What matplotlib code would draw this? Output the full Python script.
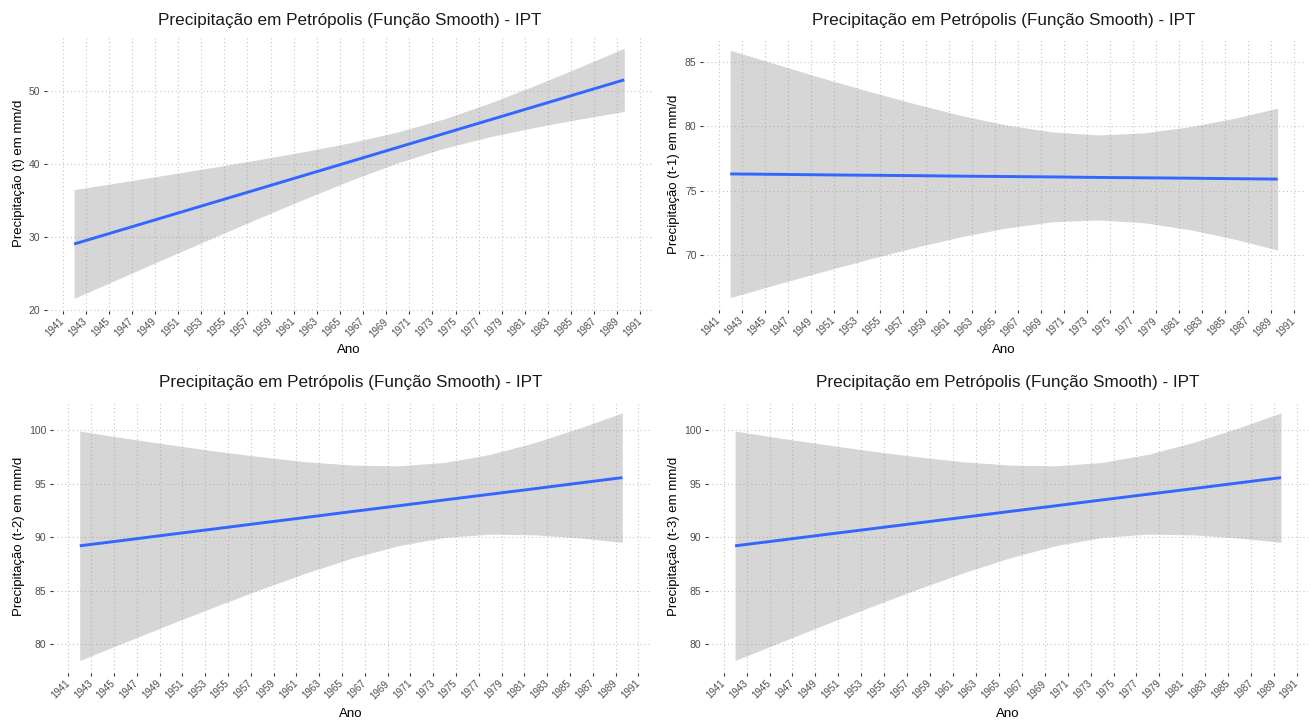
import matplotlib
matplotlib.use("Agg")
import matplotlib.pyplot as plt

plt.rcParams["font.family"] = ["Liberation Sans", "DejaVu Sans"]

# anos onde a curva suavizada foi lida
anos = [1942, 1946, 1950, 1954, 1958, 1962, 1966, 1970, 1974, 1978, 1982, 1986, 1989.6]

# precipitação (t)
prec_t_fit = [29.00, 30.89, 32.78, 34.67, 36.56, 38.45, 40.34, 42.24, 44.13, 46.02, 47.91, 49.80, 51.50]
prec_t_sup = [36.45, 37.45, 38.47, 39.50, 40.57, 41.69, 42.91, 44.36, 46.14, 48.33, 50.80, 53.41, 55.83]
prec_t_inf = [21.55, 24.33, 27.09, 29.84, 32.55, 35.21, 37.77, 40.12, 42.12, 43.71, 45.02, 46.19, 47.17]

# precipitação (t-1)
prec_t1_fit = [76.30, 76.27, 76.23, 76.20, 76.17, 76.13, 76.10, 76.07, 76.03, 76.00, 75.97, 75.93, 75.90]
prec_t1_sup = [85.90, 84.82, 83.75, 82.73, 81.76, 80.85, 80.10, 79.56, 79.33, 79.49, 79.97, 80.65, 81.41]
prec_t1_inf = [66.70, 67.72, 68.71, 69.67, 70.58, 71.41, 72.10, 72.58, 72.73, 72.51, 71.97, 71.21, 70.39]

# precipitação (t-2)
prec_t2_fit = [89.20, 89.73, 90.27, 90.80, 91.34, 91.87, 92.41, 92.94, 93.48, 94.01, 94.54, 95.08, 95.56]
prec_t2_sup = [99.90, 99.24, 98.62, 98.02, 97.49, 97.03, 96.73, 96.66, 96.98, 97.73, 98.86, 100.24, 101.60]
prec_t2_inf = [78.50, 80.22, 81.92, 83.58, 85.19, 86.71, 88.09, 89.22, 89.98, 90.29, 90.22, 89.92, 89.52]

# precipitação (t-3)
prec_t3_fit = [89.20, 89.73, 90.27, 90.80, 91.34, 91.87, 92.41, 92.94, 93.48, 94.01, 94.54, 95.08, 95.56]
prec_t3_sup = [99.90, 99.24, 98.62, 98.02, 97.49, 97.03, 96.73, 96.66, 96.98, 97.73, 98.86, 100.24, 101.60]
prec_t3_inf = [78.50, 80.22, 81.92, 83.58, 85.19, 86.71, 88.09, 89.22, 89.98, 90.29, 90.22, 89.92, 89.52]

x_ticks = list(range(1941, 1992, 2))
y_ticks = [[20, 30, 40, 50], [70, 75, 80, 85], [80, 85, 90, 95, 100], [80, 85, 90, 95, 100]]
y_labels = ["Precipitação (t) em mm/d", "Precipitação (t-1) em mm/d",
            "Precipitação (t-2) em mm/d", "Precipitação (t-3) em mm/d"]
titulo = "Precipitação em Petrópolis (Função Smooth) - IPT"

series = [(prec_t_fit, prec_t_sup, prec_t_inf),
          (prec_t1_fit, prec_t1_sup, prec_t1_inf),
          (prec_t2_fit, prec_t2_sup, prec_t2_inf),
          (prec_t3_fit, prec_t3_sup, prec_t3_inf)]

W, H = 1311, 720
fig = plt.figure(figsize=(W / 100, H / 100), dpi=100)

# caixas dos painéis em pixels: esquerda, topo, direita, base
caixas = [(46.6, 35.7, 651.8, 310.9), (702.8, 37.9, 1305.0, 310.0),
          (52.6, 400.5, 649.5, 672.9), (707.8, 400.5, 1308.3, 672.9)]
titulo_y = [20, 20, 383, 383]
ano_y = [350, 350, 714, 714]
ylab_x = [19, 674, 19, 674]


def expande(vmin, vmax, f=0.05):
    d = (vmax - vmin) * f
    return vmin - d, vmax + d


for i, (fit, sup, inf) in enumerate(series):
    l, t, r, b = caixas[i]
    ax = fig.add_axes([l / W, 1 - b / H, (r - l) / W, (b - t) / H])

    ax.fill_between(anos, inf, sup, color="#999999", alpha=0.4, lw=0, zorder=2)
    ax.plot(anos, fit, color="#3366FF", lw=2.1, zorder=3, solid_capstyle="butt")

    ax.set_xlim(*expande(min(anos), max(anos)))
    ax.set_ylim(*expande(min(inf), max(sup)))
    ax.set_xticks(x_ticks)
    ax.set_yticks(y_ticks[i])
    ax.set_xticklabels([str(a) for a in x_ticks], rotation=45, ha="right",
                       va="center", rotation_mode="anchor")

    ax.grid(True, color="#c4c4c4", linestyle=(0, (1, 2.5)), lw=0.8, zorder=1)
    for s in ax.spines.values():
        s.set_visible(False)
    ax.tick_params(axis="both", length=2.5, width=0.8, color="#333333",
                   labelcolor="#4d4d4d", pad=2)
    ax.tick_params(axis="x", labelsize=7, pad=4)
    ax.tick_params(axis="y", labelsize=7.5)

    cx = (l + r) / 2 / W
    fig.text(cx, 1 - titulo_y[i] / H, titulo, ha="center", va="center",
             fontsize=12.3, color="#1a1a1a")
    fig.text(cx, 1 - ano_y[i] / H, "Ano", ha="center", va="center", fontsize=9.5)
    fig.text(ylab_x[i] / W, 1 - (t + b) / 2 / H, y_labels[i], ha="center",
             va="center", rotation=90, fontsize=9.5)

fig.savefig("out.png", dpi=100, facecolor="white")
